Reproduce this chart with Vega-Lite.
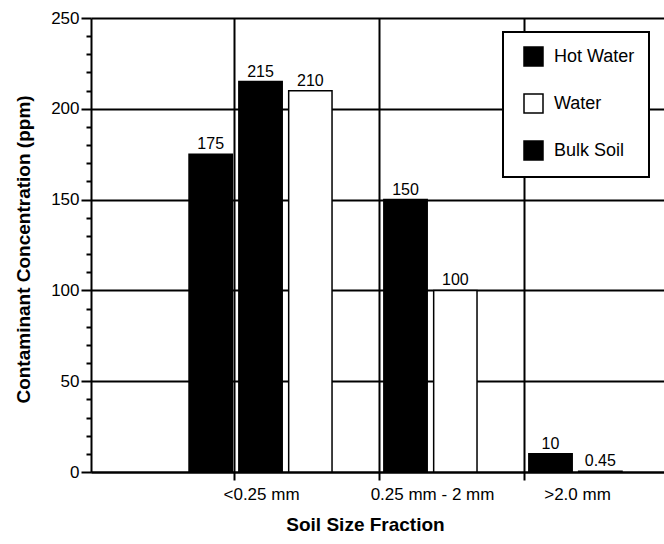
{
  "$schema": "https://vega.github.io/schema/vega-lite/v6.json",
  "width": 573,
  "height": 454,
  "autosize": {"type": "none"},
  "padding": {"left": 91, "top": 18, "right": 0, "bottom": 72},
  "background": "white",
  "config": {"view": {"stroke": null}, "font": "Liberation Sans"},
  "data": {
    "values": [
      {"fraction": "<0.25 mm", "series": "Bulk Soil", "value": 175},
      {"fraction": "<0.25 mm", "series": "Hot Water", "value": 215},
      {"fraction": "<0.25 mm", "series": "Water", "value": 210},
      {"fraction": "0.25 mm - 2 mm", "series": "Hot Water", "value": 150},
      {"fraction": "0.25 mm - 2 mm", "series": "Water", "value": 100},
      {"fraction": ">2.0 mm", "series": "Hot Water", "value": 10},
      {"fraction": ">2.0 mm", "series": "Water", "value": 0.45}
    ]
  },
  "encoding": {
    "x": {
      "field": "fraction",
      "type": "nominal",
      "scale": {"domain": ["<0.25 mm", "0.25 mm - 2 mm", ">2.0 mm"], "paddingInner": 0, "paddingOuter": 0.476, "align": 0.703},
      "axis": {
        "title": "Soil Size Fraction",
        "labelAngle": 0,
        "bandPosition": 0.32,
        "grid": true,
        "gridColor": "black",
        "gridWidth": 2,
        "domainColor": "black",
        "domainWidth": 2,
        "tickColor": "black",
        "tickWidth": 2,
        "tickSize": 8,
        "labelFont": "Liberation Sans",
        "labelFontSize": 17,
        "labelColor": "black",
        "labelPadding": 6,
        "labelOffset": {"condition": {"test": "datum.value === '<0.25 mm'", "value": 1}, "value": 27},
        "titleFont": "Liberation Sans",
        "titleFontSize": 19,
        "titleFontWeight": "bold",
        "titleColor": "black",
        "titleX": 274,
        "titleY": 43,
        "titleAlign": "center",
        "titleBaseline": "top"
      }
    },
    "xOffset": {
      "field": "series",
      "type": "nominal",
      "scale": {"domain": ["Bulk Soil", "Hot Water", "Water"], "paddingInner": 0.13, "paddingOuter": 0.02}
    },
    "y": {
      "field": "value",
      "type": "quantitative",
      "scale": {"domain": [0, 250], "nice": false},
      "axis": {
        "title": "Contaminant Concentration (ppm)",
        "values": [0, 10, 20, 30, 40, 50, 60, 70, 80, 90, 100, 110, 120, 130, 140, 150, 160, 170, 180, 190, 200, 210, 220, 230, 240, 250],
        "labelExpr": "datum.value % 50 === 0 ? datum.label : ''",
        "grid": true,
        "gridColor": "black",
        "gridWidth": 2,
        "gridOpacity": {"condition": {"test": "datum.value % 50 === 0", "value": 1}, "value": 0},
        "tickSize": {"condition": {"test": "datum.value % 50 === 0", "value": 10}, "value": 5},
        "tickColor": "black",
        "tickWidth": 2,
        "domainColor": "black",
        "domainWidth": 2,
        "labelFont": "Liberation Sans",
        "labelFontSize": 17,
        "labelColor": "black",
        "labelPadding": 2,
        "titleFont": "Liberation Sans",
        "titleFontSize": 19,
        "titleFontWeight": "bold",
        "titleColor": "black",
        "titleAngle": 270,
        "titleX": -68,
        "titleY": 231,
        "titleAlign": "center",
        "titleBaseline": "middle"
      }
    }
  },
  "layer": [
    {
      "mark": {"type": "bar", "stroke": "black", "strokeWidth": 1.5},
      "encoding": {
        "color": {
          "field": "series",
          "type": "nominal",
          "scale": {"domain": ["Hot Water", "Water", "Bulk Soil"], "range": ["black", "white", "black"]},
          "legend": {
            "title": null,
            "orient": "none",
            "legendX": 412,
            "legendY": 14,
            "direction": "vertical",
            "fillColor": "white",
            "strokeColor": "black",
            "padding": 14,
            "symbolOffset": 6,
            "symbolType": "square",
            "symbolSize": 361,
            "symbolStrokeColor": "black",
            "symbolStrokeWidth": 1.5,
            "symbolOpacity": 1,
            "labelFont": "Liberation Sans",
            "labelFontSize": 18,
            "labelColor": "black",
            "labelOffset": 10,
            "rowPadding": 22,
            "labelLimit": 200,
            "encode": {"legend": {"update": {"strokeWidth": {"value": 2}}}}
          }
        }
      }
    },
    {
      "mark": {"type": "text", "dy": -5, "baseline": "alphabetic", "fontSize": 16, "color": "black", "font": "Liberation Sans"},
      "encoding": {"text": {"field": "value", "type": "quantitative"}}
    }
  ]
}
